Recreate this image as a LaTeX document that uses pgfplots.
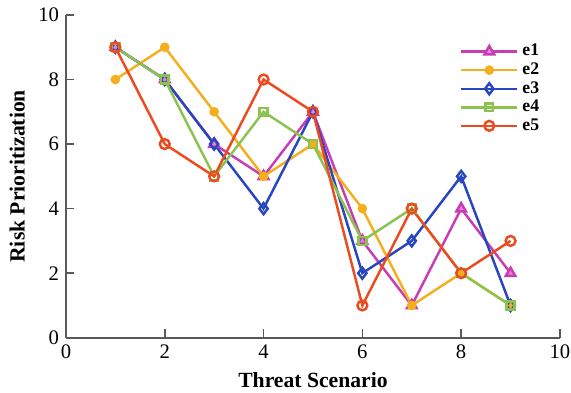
\documentclass[border=0pt]{standalone}
\usepackage{pgfplots}
\pgfplotsset{compat=1.18}
\usepackage{fontspec}
\setmainfont{Liberation Serif}
\definecolor{cA}{RGB}{200,60,180}
\definecolor{cB}{RGB}{245,175,30}
\definecolor{cC}{RGB}{40,70,190}
\definecolor{cD}{RGB}{140,195,80}
\definecolor{cE}{RGB}{235,75,30}
\begin{document}
\begin{tikzpicture}
\begin{axis}[
  name=ax,
  scale only axis, width=251pt, height=164pt,
  xmin=0, xmax=10, ymin=0, ymax=10,
  xtick={0,2,...,10}, ytick={0,2,...,10},
  axis x line*=bottom, axis y line*=left,
  axis line style={gray!70!black, line width=0.8pt},
  tick style={gray!70!black, line width=0.8pt},
  tick align=inside,
  /pgf/number format/assume math mode=true,
  tick label style={font=\fontsize{10.5}{12}\selectfont},
  xlabel={\textbf{Threat Scenario}}, ylabel={\textbf{Risk Prioritization}},
  label style={font=\fontsize{11}{13}\selectfont},
  legend style={draw=none, fill=none, at={(0.785,0.935)}, anchor=north west, font=\small\bfseries, row sep=-2pt},
  legend cell align=left,
  legend image code/.code={\draw[#1] (0cm,0cm) -- (1.0cm,0cm); \draw[#1, only marks] plot coordinates {(0.5cm,0cm)};},
  every axis plot/.append style={line width=1.25pt},
]
\addplot[cA, mark=triangle*, mark size=2.8pt, mark options={fill=cA!60}] coordinates {(1,9)(2,8)(3,6)(4,5)(5,7)(6,3)(7,1)(8,4)(9,2)};
\addlegendentry{e1}
\addplot[cB, mark=*, mark size=1.8pt] coordinates {(1,8)(2,9)(3,7)(4,5)(5,6)(6,4)(7,1)(8,2)(9,1)};
\addlegendentry{e2}
\addplot[cC, mark=diamond, mark size=2.8pt, mark options={fill=white}] coordinates {(1,9)(2,8)(3,6)(4,4)(5,7)(6,2)(7,3)(8,5)(9,1)};
\addlegendentry{e3}
\addplot[cD, mark=square, mark size=2pt, mark options={fill=white}] coordinates {(1,9)(2,8)(3,5)(4,7)(5,6)(6,3)(7,4)(8,2)(9,1)};
\addlegendentry{e4}
\addplot[cE, mark=o, mark size=2.5pt, mark options={fill=white}] coordinates {(1,9)(2,6)(3,5)(4,8)(5,7)(6,1)(7,4)(8,2)(9,3)};
\addlegendentry{e5}
\end{axis}
\pgfresetboundingbox
\path[use as bounding box] ([shift={(-33.5pt,-28pt)}]ax.south west) rectangle ([shift={(5.6pt,7.6pt)}]ax.north east);
\end{tikzpicture}
\end{document}
